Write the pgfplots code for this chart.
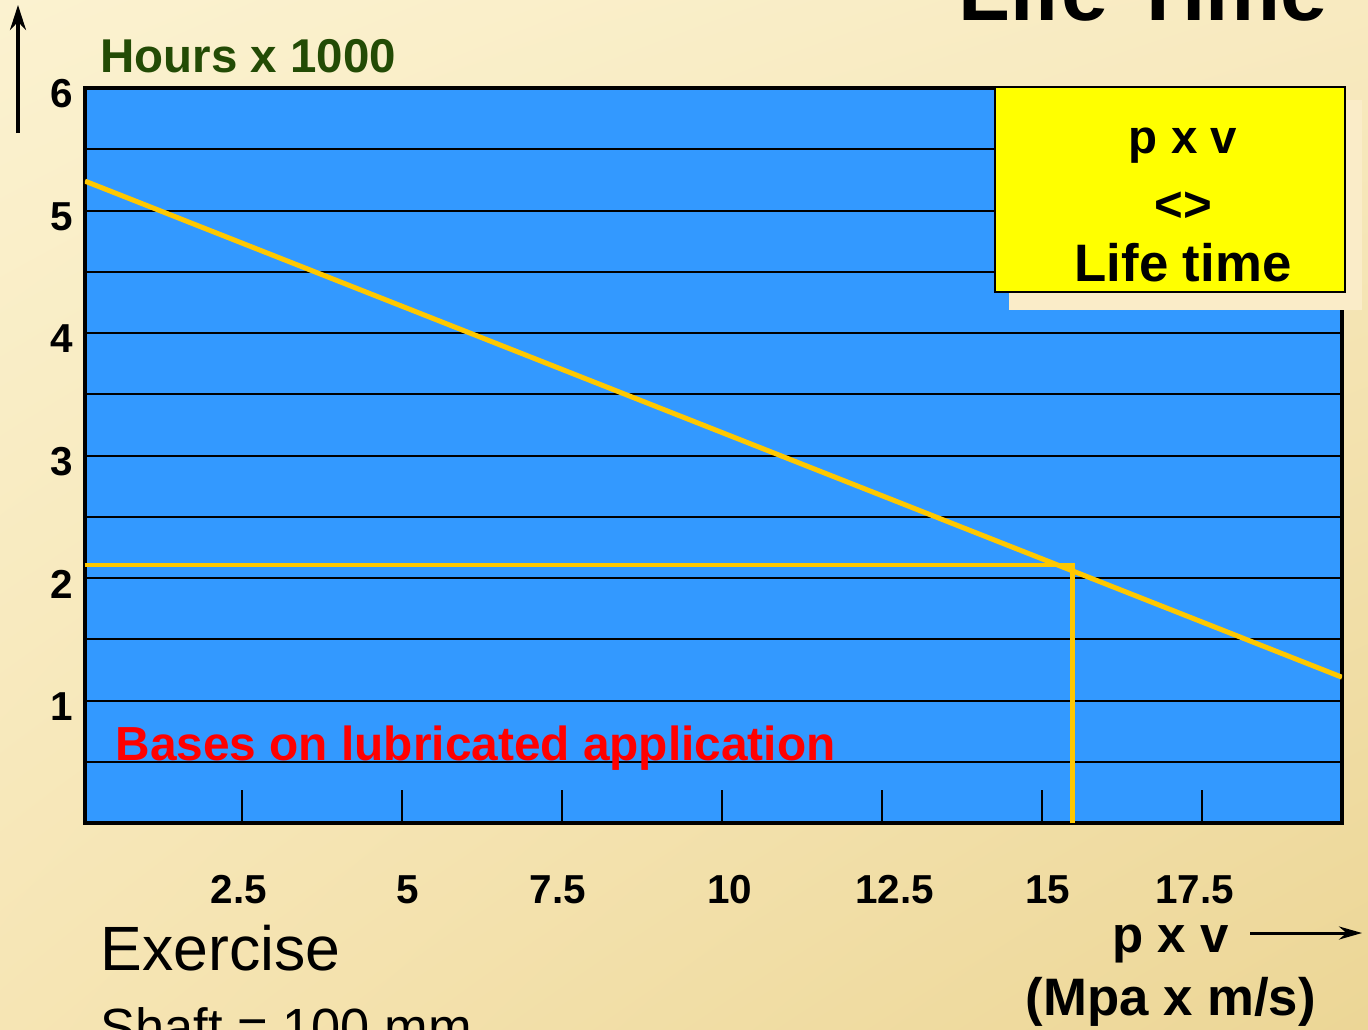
\documentclass[border=0pt]{standalone}
\usepackage{pgfplots}
\pgfplotsset{compat=1.18}
\usepackage{fontspec}
\setmainfont{Liberation Sans}
\usetikzlibrary{arrows.meta,shadings}
\definecolor{bgA}{RGB}{251,242,208}
\definecolor{bgB}{RGB}{248,234,192}
\definecolor{bgC}{RGB}{246,229,180}
\definecolor{bgD}{RGB}{236,214,150}
\definecolor{plotblue}{RGB}{51,153,255}
\definecolor{lineyellow}{RGB}{255,200,0}
\definecolor{hoursgreen}{RGB}{35,75,5}
\definecolor{shadowcream}{RGB}{250,236,200}
\definecolor{boxyellow}{RGB}{255,255,0}

\begin{document}
\begin{tikzpicture}
\useasboundingbox (0,0) rectangle (136.8mm,102.9mm);
\clip (0,0) rectangle (136.8mm,102.9mm);
\shade[upper left=bgA, upper right=bgB, lower left=bgC, lower right=bgD] (0,0) rectangle (136.8mm,102.9mm);

\begin{axis}[
  at={(8.5mm,20.6mm)}, anchor=south west,
  scale only axis, width=125.7mm, height=73.5mm,
  xmin=0.05, xmax=19.69, ymin=0, ymax=6,
  axis background/.style={fill=plotblue},
  axis line style={line width=0.4mm, black},
  tick pos=left,
  xtick={2.5,5,7.5,10,12.5,15,17.5},
  xticklabels={{2.5\hspace*{0.6mm}},{\hspace*{1.2mm}5},{7.5\hspace*{0.8mm}},{\hspace*{1.6mm}10},{\hspace*{2.6mm}12.5},{\hspace*{1.2mm}15},{17.5\hspace*{1.4mm}}},
  ytick={1,2,3,4,5,6},
  yticklabels={1,2,3,4,5,6},
  minor ytick={0.5,1.5,2.5,3.5,4.5,5.5},
  ymajorgrids, yminorgrids,
  major grid style={black, line width=0.2mm},
  minor grid style={black, line width=0.2mm},
  tick align=inside,
  major tick length=3.3mm,
  minor tick length=0pt,
  xtick style={black, line width=0.2mm},
  ytick style={draw=none},
  xticklabel style={font=\bfseries\fontsize{11.5}{13}\selectfont, yshift=-4mm},
  yticklabel style={font=\bfseries\fontsize{11.5}{13}\selectfont, yshift=-0.6mm},
  clip=true,
]
\addplot[lineyellow, line width=0.5mm] coordinates {(0.05,5.24) (19.69,1.19)};
\addplot[lineyellow, line width=0.45mm] coordinates {(0.05,2.106) (15.48,2.106) (15.48,0)};
\end{axis}

% red note
\node[anchor=base west, inner sep=0, text=red, font=\bfseries\fontsize{13.6}{15}\selectfont] at (11.5mm,26.9mm) {Bases on lubricated application};

% yellow box with shadow
\fill[shadowcream] (100.9mm,71.9mm) rectangle (136.2mm,92.9mm);
\draw[black, line width=0.25mm, fill=boxyellow] (99.5mm,73.7mm) rectangle (134.5mm,94.2mm);
\node[anchor=base, inner sep=0, font=\bfseries\fontsize{13.5}{15}\selectfont] at (118.3mm,87.6mm) {p x v};
\node[anchor=base, inner sep=0, font=\bfseries\fontsize{14}{15}\selectfont] at (118.3mm,80.8mm) {<>};
\node[anchor=base, inner sep=0, font=\bfseries\fontsize{15}{17}\selectfont] at (118.3mm,74.8mm) {Life time};

% title (cut off at top, as in the original slide)
\node[anchor=base west, inner sep=0, font=\bfseries\fontsize{24}{28}\selectfont] at (95.8mm,100.9mm) {Life Time};

% y axis caption and arrow
\node[anchor=base west, inner sep=0, text=hoursgreen, font=\bfseries\fontsize{13.5}{15}\selectfont] at (10mm,95.7mm) {Hours x 1000};
\draw[line width=0.35mm, -{Stealth[length=2.5mm,width=1.6mm]}] (1.8mm,89.6mm) -- (1.8mm,102.4mm);

% x axis caption and arrow
\node[anchor=base west, inner sep=0, font=\bfseries\fontsize{14.5}{16}\selectfont] at (111.2mm,7.7mm) {p x v};
\draw[line width=0.3mm, -{Stealth[length=2.3mm,width=1.3mm]}] (125mm,9.6mm) -- (136.2mm,9.6mm);
\node[anchor=base west, inner sep=0, font=\bfseries\fontsize{15}{17}\selectfont] at (102.5mm,1.4mm) {(Mpa x m/s)};

% exercise text
\node[anchor=base west, inner sep=0, font=\fontsize{17.8}{20}\selectfont] at (10mm,5.9mm) {Exercise};
\node[anchor=base west, inner sep=0, font=\fontsize{14.9}{17}\selectfont] at (10mm,-1.6mm) {Shaft = 100 mm};
\end{tikzpicture}
\end{document}
